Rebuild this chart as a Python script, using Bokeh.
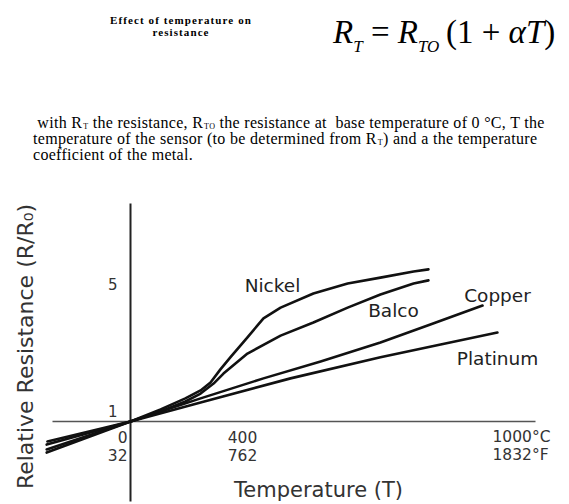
from math import pi
from bokeh.plotting import figure
from bokeh.models import Range1d, Div
from bokeh.layouts import column
from bokeh.core.properties import value
from bokeh.embed import file_html
from bokeh.resources import INLINE

# ---------------- data (temperature in deg C, relative resistance R/R0) ----------------
nickel_t = [-220, 0, 79, 144, 184, 210, 236, 262, 307, 349, 394, 480, 570, 656, 743, 782]
nickel_r = [0.10, 1.0, 1.35, 1.67, 1.90, 2.13, 2.51, 2.86, 3.44, 3.99, 4.30, 4.71, 5.00, 5.17, 5.35, 5.41]
balco_t = [-220, 0, 79, 144, 184, 218, 244, 307, 394, 480, 570, 656, 743, 782]
balco_r = [0.19, 1.0, 1.29, 1.58, 1.81, 2.10, 2.39, 2.97, 3.49, 3.87, 4.30, 4.68, 5.00, 5.09]
copper_t = [-220, 0, 184, 349, 499, 656, 787, 924]
copper_r = [0.33, 1.0, 1.67, 2.25, 2.74, 3.29, 3.81, 4.36]
platinum_t = [-218, 0, 184, 420, 656, 814, 963]
platinum_r = [0.42, 1.0, 1.55, 2.25, 2.86, 3.23, 3.58]

series_names = ["Nickel", "Balco", "Copper", "Platinum"]
y_tick_values = [1, 5]
y_tick_labels = ["1", "5"]
x_tick_celsius = ["0", "400", "1000°C"]
x_tick_fahrenheit = ["32", "762", "1832°F"]
x_title = "Temperature (T)"
y_title = "Relative Resistance (R/R₀)"

# ---------------- layout helpers (page pixels -> data units) ----------------
PX_PER_C = 0.381
PX_PER_UNIT = 34.5
ORIGIN_X = 130   # page x of 0 deg C
ORIGIN_Y = 421   # page y of R/R0 = 1
FIG_LEFT = 8
FIG_TOP = 183
FIG_W, FIG_H = 553, 320


def dx(px):
    return (px - ORIGIN_X) / PX_PER_C


def dy(py):
    return 1 + (ORIGIN_Y - py) / PX_PER_UNIT


p = figure(width=FIG_W, height=FIG_H,
           x_range=Range1d(dx(FIG_LEFT), dx(FIG_LEFT + FIG_W)),
           y_range=Range1d(dy(FIG_TOP + FIG_H), dy(FIG_TOP)),
           x_axis_type=None, y_axis_type=None,
           output_backend="svg", toolbar_location=None,
           min_border=0, margin=(0, 0, 0, 8))
p.grid.visible = False
p.outline_line_color = None
p.background_fill_color = "white"
p.border_fill_color = "white"

# axes drawn through the origin (0 deg C, R/R0 = 1)
p.segment(x0=[dx(52)], y0=[1], x1=[dx(535)], y1=[1], line_color="#555555", line_width=1.5)
p.segment(x0=[0], y0=[dy(203)], x1=[0], y1=[dy(501)], line_color="#222222", line_width=2)

# curves
for t, r in [(nickel_t, nickel_r), (balco_t, balco_r), (copper_t, copper_r), (platinum_t, platinum_r)]:
    p.line(t, r, line_color="#111111", line_width=2.6, line_join="round", line_cap="round")

FONT = value("DejaVu Sans")

# curve labels
label_px = [(272, 285), (393, 310), (497, 295), (497, 358)]
p.text(x=[dx(a) for a, b in label_px], y=[dy(b) for a, b in label_px], text=series_names,
       text_font=FONT, text_font_size="18.5px", text_color="#222222",
       text_align="center", text_baseline="middle")

# y tick labels, left of the vertical axis (shift in px, upward positive)
y_tick_shift_px = [11, 0]
p.text(x=[dx(117)] * len(y_tick_values),
       y=[v + s / PX_PER_UNIT for v, s in zip(y_tick_values, y_tick_shift_px)],
       text=y_tick_labels, text_font=FONT, text_font_size="15px", text_color="#333333",
       text_align="right", text_baseline="middle")

# x tick labels, Celsius row and Fahrenheit row
x_anchor_px = [127, 242, 492]
x_aligns = ["right", "center", "left"]
for i in range(3):
    p.text(x=[dx(x_anchor_px[i])] * 2, y=[dy(436), dy(454)],
           text=[x_tick_celsius[i], x_tick_fahrenheit[i]],
           text_font=FONT, text_font_size="15.5px", text_color="#333333",
           text_align=x_aligns[i], text_baseline="middle")

# axis titles
p.text(x=[dx(318)], y=[dy(489)], text=[x_title], text_font=FONT, text_font_size="21px",
       text_color="#333333", text_align="center", text_baseline="middle")
p.text(x=[dx(25)], y=[dy(346)], text=[y_title], angle=pi / 2, text_font=FONT,
       text_font_size="22px", text_color="#333333", text_align="center", text_baseline="middle")

# ---------------- header (slide text above the chart) ----------------
SUB = "font-size:{s}px;vertical-align:{v}px;line-height:0;margin-left:{m}px;"
eq_sub = SUB.format(s=17, v=-9, m=0)
par_sub = SUB.format(s=8, v=-1, m=1)
header_html = f"""
<div style="position:relative;width:553px;height:175px;background:#ffffff;
            font-family:'Liberation Serif','Times New Roman',serif;color:#000;">
  <div style="position:absolute;left:73px;top:6px;width:200px;text-align:center;
              font-size:11px;line-height:12px;font-weight:bold;letter-spacing:1.1px;">Effect of temperature on<br>resistance</div>
  <div style="position:absolute;left:325px;top:8px;font-size:33px;line-height:33px;white-space:nowrap;">
    <i>R</i><span style="{eq_sub}"><i>T</i></span>&nbsp;=&nbsp;<i>R</i><span style="{eq_sub}"><i>TO</i></span>&thinsp;(1&nbsp;+&nbsp;<i>&alpha;T</i>)</div>
  <div style="position:absolute;left:25px;top:107px;font-size:16px;line-height:16px;letter-spacing:0.3px;white-space:nowrap;">
    &nbsp;with R<span style="{par_sub}">T</span> the resistance, R<span style="{par_sub}">TO</span> the resistance at &nbsp;base temperature of 0 &deg;C, T the<br>temperature of the sensor (to be determined from R<span style="{par_sub}">T</span>) and a the temperature<br>coefficient of the metal.</div>
</div>
"""
header = Div(text=header_html, width=553, height=175, margin=(8, 0, 0, 8))

layout = column(header, p, spacing=0)
open("out.html", "w").write(file_html(layout, INLINE))
